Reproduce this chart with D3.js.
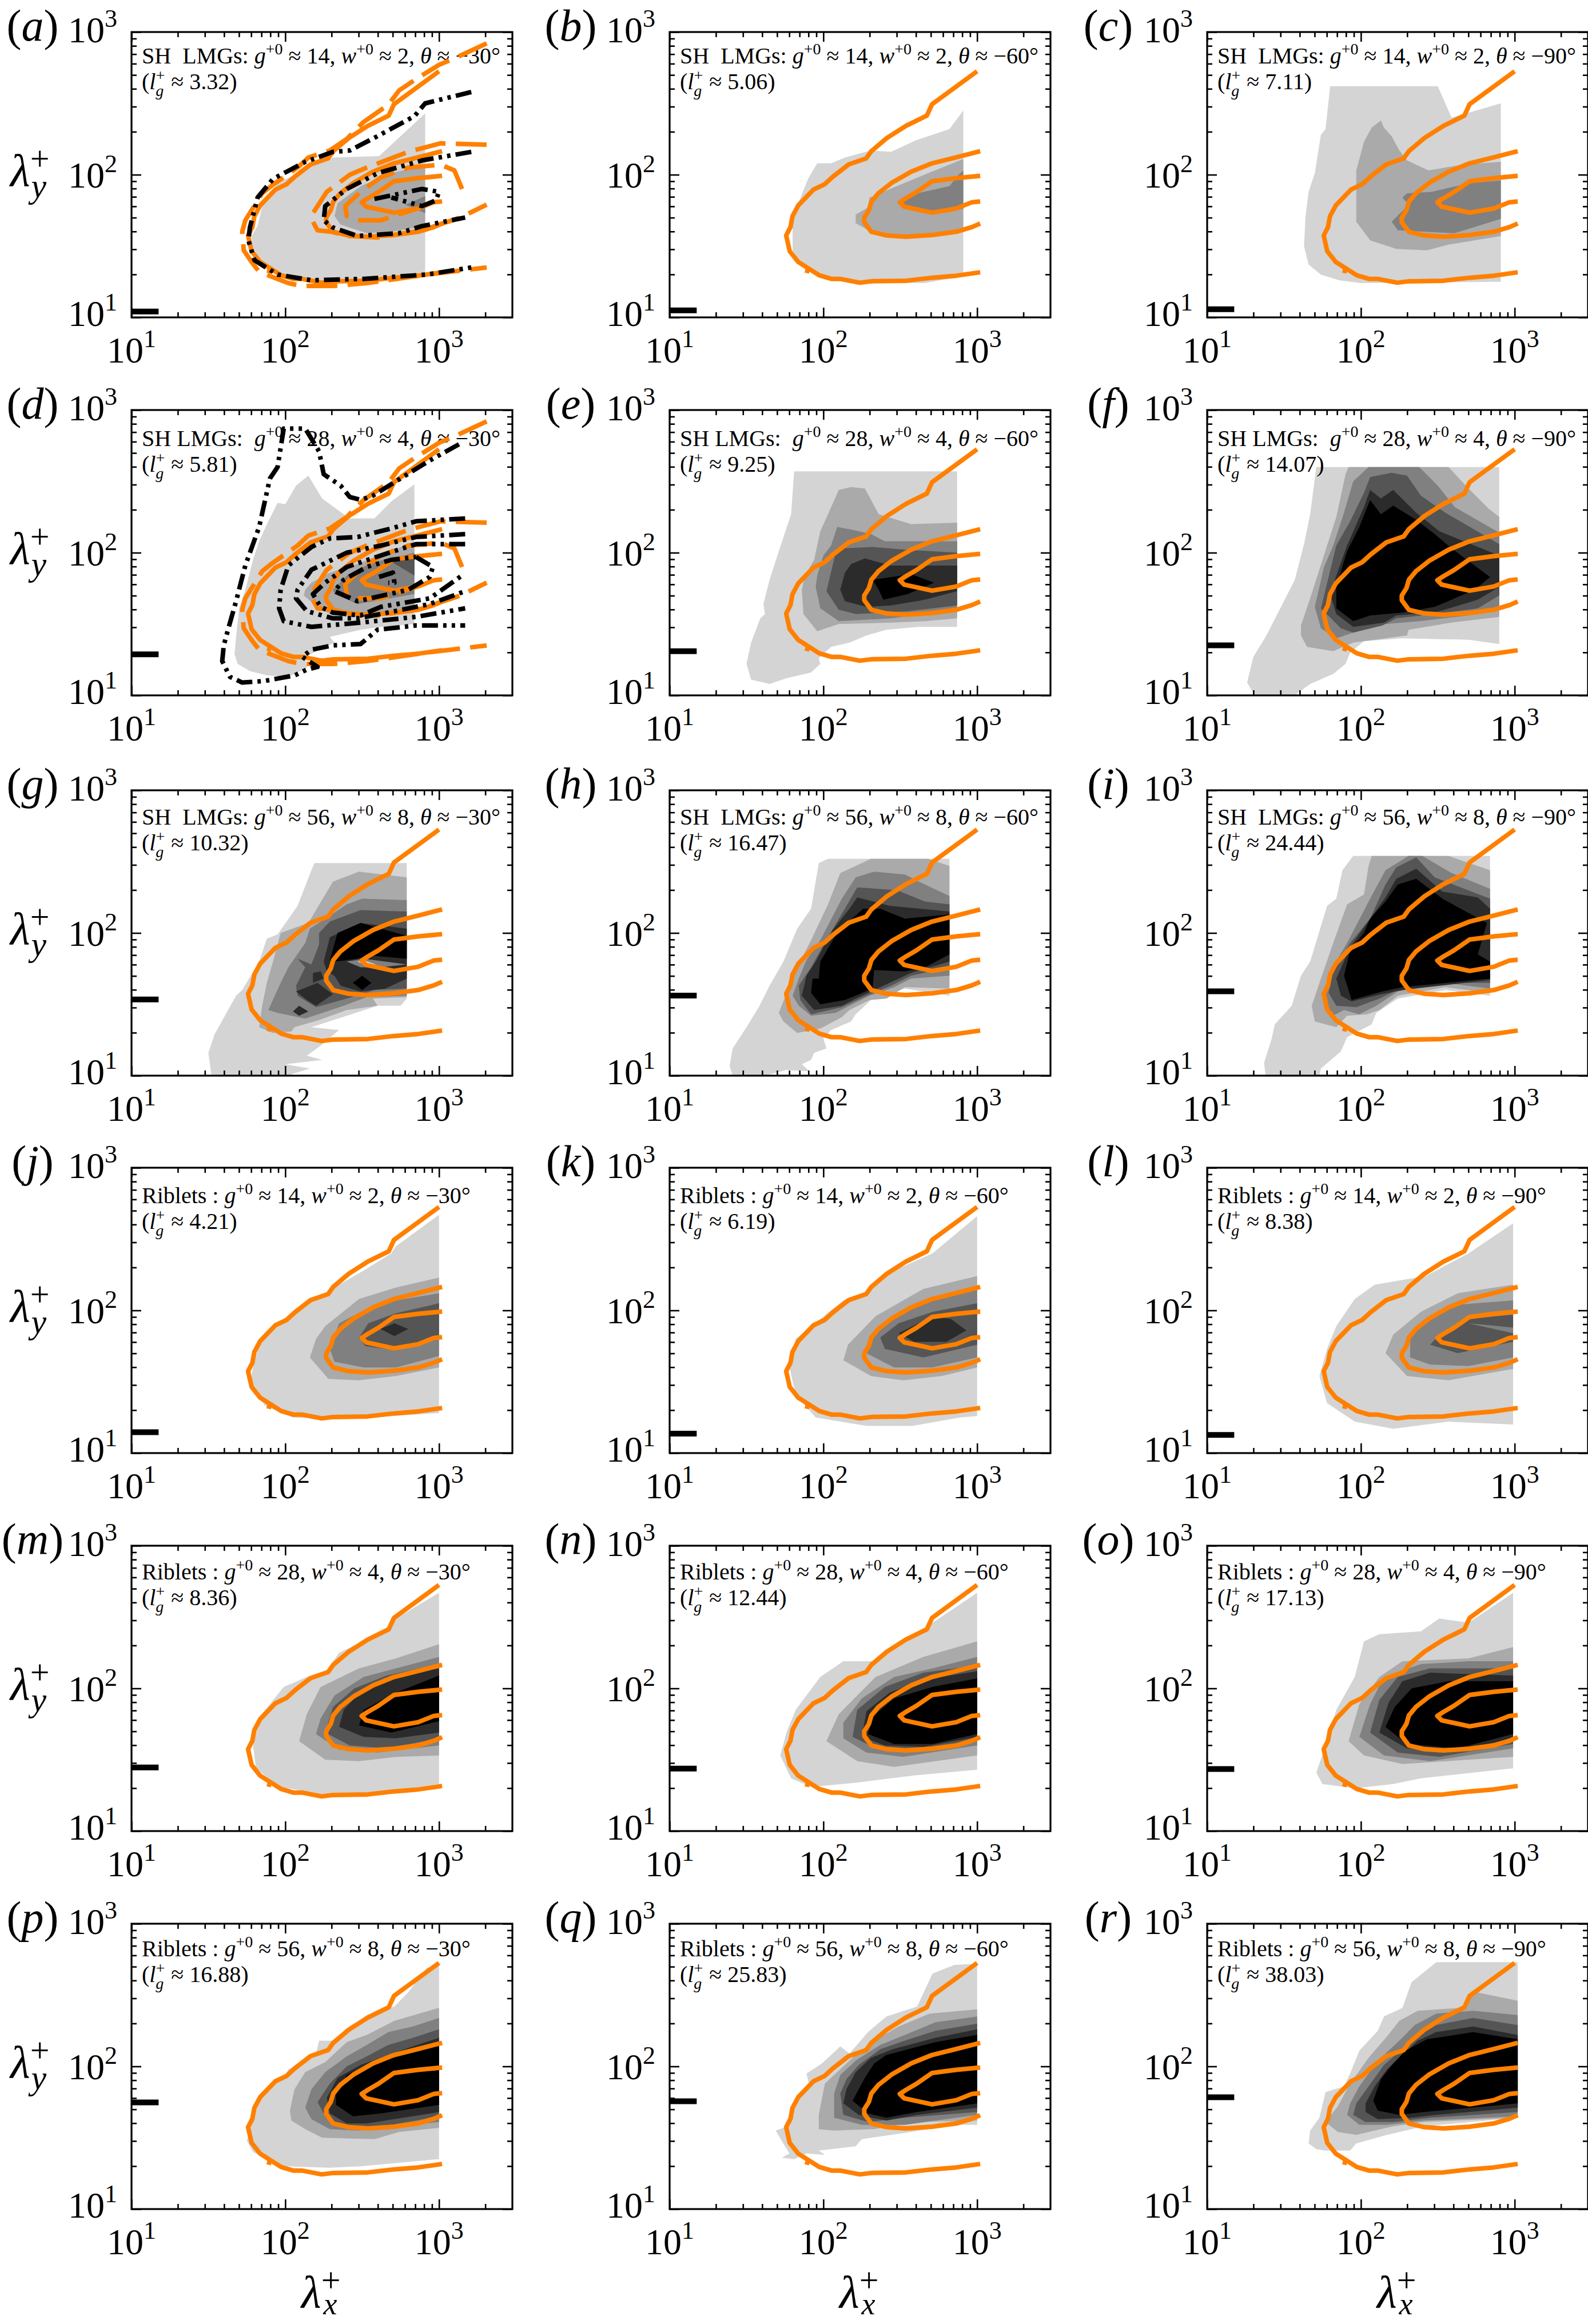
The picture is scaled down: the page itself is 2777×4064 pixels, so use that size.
<!DOCTYPE html>
<html>
<head>
<meta charset="utf-8">
<script src="https://cdn.jsdelivr.net/npm/d3@7"></script>
<style>
html, body { margin: 0; padding: 0; background: #fff; }
text { font-family: "Liberation Serif", serif; fill: #000; white-space: pre; }
</style>
</head>
<body>
<svg id="chart" width="2777" height="4064"></svg>
<script>
// all contour points are [log10(lambda_x+), log10(lambda_y+)]
var panelLetters = "abcdefghijklmnopqr".split("");
var gPlus = [14,14,14,28,28,28,56,56,56,14,14,14,28,28,28,56,56,56];
var wPlus = [2,2,2,4,4,4,8,8,8,2,2,2,4,4,4,8,8,8];
var thetaDeg = [30,60,90,30,60,90,30,60,90,30,60,90,30,60,90,30,60,90];
var lgPlus = ["3.32","5.06","7.11","5.81","9.25","14.07","10.32","16.47","24.44","4.21","6.19","8.38","8.36","12.44","17.13","16.88","25.83","38.03"];
var gapBar = [11,11.2,11.4,19.4,20.4,22.4,34.2,36.4,39,14,13.7,13.4,27.9,27.4,27.2,55.9,57,60.8];

var xMajor = [10,100,1000];
var xMinor = [20,30,40,50,60,70,80,90,200,300,400,500,600,700,800,900,2000];
var yMajor = [10,100,1000];
var yMinor = [20,30,40,50,60,70,80,90,200,300,400,500,600,700,800,900];
var bandGreys = ["#d4d4d4","#aaaaaa","#808080","#555555","#2b2b2b","#000000"];

// reference contours, the same in every panel
var refOuter = [[3,2.725],[2.707,2.494],[2.673,2.414],[2.537,2.342],[2.413,2.257],[2.312,2.165],[2.278,2.114],[2.165,2.072],[2.063,1.987],[2.007,1.932],[1.935,1.895],[1.837,1.785],[1.799,1.709],[1.786,1.633],[1.758,1.574],[1.781,1.464],[1.837,1.388],[1.973,1.295],[2.052,1.27],[2.108,1.27],[2.237,1.243],[2.311,1.253],[2.537,1.257],[2.707,1.278],[2.864,1.292],[3.02,1.316]];
var refMiddle = [[3.02,2.165],[2.864,2.122],[2.707,2.08],[2.571,2.021],[2.447,1.945],[2.357,1.869],[2.312,1.81],[2.296,1.751],[2.266,1.70],[2.266,1.667],[2.312,1.6],[2.413,1.574],[2.537,1.565],[2.707,1.577],[2.864,1.6],[2.966,1.633],[3.02,1.658]];
var refInner = [[3.02,1.992],[2.864,1.976],[2.707,1.954],[2.605,1.878],[2.537,1.835],[2.497,1.807],[2.526,1.776],[2.707,1.734],[2.864,1.763],[2.966,1.807],[3.02,1.813]];
var refSpur = [[1.9,1.345],[1.892,1.31]];

// long-dash contours of panels a and d
var dashOuter = [[3.31,2.92],[3.11,2.82],[3,2.77],[2.85,2.67],[2.74,2.59],[2.67,2.49],[2.51,2.37],[2.4,2.25],[2.29,2.17],[2.15,2.12],[2.08,2.05],[1.92,1.93],[1.85,1.87],[1.74,1.68],[1.72,1.6],[1.73,1.47],[1.78,1.39],[1.83,1.32],[2.02,1.24],[2.11,1.22],[2.31,1.22],[2.53,1.24],[2.92,1.3],[3.31,1.35]];
var dashMiddle = [[3.31,2.21],[3.01,2.22],[2.8,2.16],[2.53,2.05],[2.42,2],[2.27,1.88],[2.18,1.73],[2.17,1.69],[2.21,1.61],[2.3,1.6],[2.42,1.57],[2.6,1.56],[2.89,1.61],[3.14,1.7],[3.31,1.79]];
var dashInner = [[3.15,1.9],[3.1,2.03],[3.01,2.07],[2.8,2.05],[2.62,1.98],[2.49,1.88],[2.39,1.78],[2.4,1.71],[2.47,1.68],[2.62,1.68],[2.85,1.76]];

// dash-dot-dot contours
var dddA = [
  [[3.21,2.58],[2.91,2.5],[2.84,2.41],[2.6,2.27],[2.42,2.17],[2.31,2.16],[2.13,2.09],[1.92,1.97],[1.82,1.84],[1.77,1.63],[1.76,1.54],[1.8,1.4],[1.95,1.3],[2.17,1.26],[2.51,1.27],[2.92,1.3],[3.21,1.35]],
  [[3.21,2.16],[2.89,2.1],[2.6,2.01],[2.4,1.9],[2.26,1.78],[2.25,1.68],[2.31,1.63],[2.47,1.57],[2.74,1.59],[2.89,1.64],[3.17,1.7]],
  [[2.58,1.83],[2.89,1.9],[3,1.88],[2.98,1.82],[2.89,1.78],[2.69,1.84]]
];
var dddD = [
  [[3.13,2.76],[2.93,2.64],[2.69,2.48],[2.57,2.4],[2.49,2.37],[2.42,2.39],[2.36,2.47],[2.25,2.55],[2.22,2.71],[2.13,2.87],[1.99,2.87],[1.95,2.6],[1.9,2.52],[1.83,2.18],[1.74,1.91],[1.68,1.66],[1.63,1.47],[1.6,1.35],[1.59,1.24],[1.64,1.13],[1.72,1.09],[1.86,1.1],[2.06,1.14],[2.14,1.18],[2.21,1.2],[2.11,1.27],[2.17,1.32],[2.31,1.35],[2.49,1.36],[2.6,1.46],[2.85,1.49],[3.17,1.49]],
  [[3.17,2.24],[2.85,2.22],[2.69,2.17],[2.47,2.11],[2.29,2.1],[2.17,2.04],[2.02,1.91],[1.97,1.74],[1.96,1.61],[1.99,1.52],[2.17,1.48],[2.49,1.51],[2.85,1.55],[3.17,1.61]],
  [[3.17,2.13],[2.85,2.11],[2.62,2.05],[2.4,2],[2.17,1.88],[2.08,1.74],[2.07,1.68],[2.14,1.59],[2.31,1.54],[2.47,1.54],[2.62,1.57],[2.94,1.64],[3.17,1.73]],
  [[3.17,2.06],[2.85,2.06],[2.62,1.98],[2.4,1.9],[2.26,1.79],[2.18,1.71],[2.23,1.62],[2.31,1.58],[2.49,1.56],[2.62,1.62],[2.94,1.68],[3.15,1.84]],
  [[2.85,1.97],[2.96,1.9],[2.94,1.83],[2.8,1.74],[2.47,1.66],[2.32,1.73],[2.38,1.81],[2.53,1.9],[2.69,1.95],[2.85,1.97]],
  [[2.61,1.83],[2.7,1.86],[2.71,1.79],[2.67,1.79]]
];

// filled bands, [grey index, polygon]
var bandsA = [
  [0,[[2.91,2.43],[2.61,2.13],[2.31,2.12],[2.17,2.06],[1.95,1.94],[1.85,1.78],[1.82,1.64],[1.78,1.57],[1.79,1.45],[1.83,1.38],[1.99,1.29],[2.22,1.25],[2.49,1.26],[2.91,1.31]]],
  [1,[[2.91,2.07],[2.69,2.01],[2.49,1.92],[2.34,1.8],[2.32,1.71],[2.36,1.65],[2.53,1.59],[2.69,1.6],[2.91,1.64]]],
  [2,[[2.91,1.85],[2.78,1.79],[2.91,1.73]]]
];
var bandsB = [
  [0,[[2.91,2.45],[2.82,2.32],[2.6,2.24],[2.44,2.16],[2.31,2.17],[2.14,2.12],[2.05,2.08],[1.96,2.08],[1.9,1.97],[1.84,1.81],[1.8,1.71],[1.8,1.47],[1.86,1.37],[1.97,1.3],[2.12,1.26],[2.24,1.24],[2.66,1.24],[2.91,1.29]]],
  [1,[[2.91,2.11],[2.68,2.01],[2.5,1.93],[2.3,1.84],[2.29,1.77],[2.21,1.72],[2.21,1.66],[2.31,1.6],[2.44,1.57],[2.71,1.58],[2.91,1.6]]],
  [2,[[2.91,2.03],[2.88,2],[2.82,1.92],[2.57,1.86],[2.5,1.81],[2.53,1.76],[2.62,1.74],[2.91,1.76]]]
];
var bandsC = [
  [0,[[1.8,2.62],[2.5,2.62],[2.59,2.4],[2.91,2.5],[2.91,1.25],[2,1.24],[1.86,1.26],[1.74,1.3],[1.66,1.37],[1.63,1.5],[1.64,1.71],[1.66,1.88],[1.7,2.01],[1.74,2.28],[1.77,2.32]]],
  [1,[[2.13,2.38],[2.07,2.33],[2.02,2.23],[1.97,2.03],[1.97,1.67],[2.06,1.54],[2.23,1.48],[2.43,1.47],[2.57,1.51],[2.91,1.57],[2.91,2.09],[2.66,2.07],[2.44,2.03],[2.3,2.1],[2.25,2.17],[2.2,2.27],[2.15,2.33]]],
  [2,[[2.3,1.87],[2.27,1.84],[2.31,1.79],[2.2,1.67],[2.24,1.61],[2.61,1.59],[2.91,1.69],[2.91,1.96],[2.7,1.94],[2.46,1.88]]]
];
var bandsD = [
  [0,[[2.84,2.48],[2.84,1.5],[2.62,1.48],[2.49,1.46],[2.29,1.41],[2.32,1.37],[2.13,1.27],[2.14,1.19],[2.02,1.13],[1.88,1.14],[1.77,1.17],[1.69,1.22],[1.67,1.29],[1.68,1.41],[1.7,1.61],[1.74,1.74],[1.79,1.95],[1.83,2.08],[1.89,2.22],[1.95,2.35],[2,2.34],[2.07,2.47],[2.15,2.54],[2.24,2.38],[2.38,2.27],[2.42,2.24],[2.58,2.24],[2.69,2.36]]],
  [1,[[2.84,2.07],[2.67,2.01],[2.49,1.93],[2.29,1.86],[2.17,1.79],[2.13,1.74],[2.12,1.7],[2.22,1.61],[2.31,1.56],[2.53,1.57],[2.84,1.61]]],
  [2,[[2.84,2],[2.69,1.96],[2.56,1.93],[2.4,1.84],[2.31,1.74],[2.32,1.71],[2.47,1.64],[2.84,1.71]]],
  [3,[[2.84,1.96],[2.67,1.95],[2.84,1.84]]]
];
var bandsE = [
  [0,[[1.81,2.57],[2.87,2.57],[2.87,1.48],[2.62,1.48],[2.41,1.46],[2.28,1.42],[2.17,1.37],[2.05,1.34],[1.97,1.26],[1.98,1.22],[1.92,1.16],[1.76,1.12],[1.65,1.08],[1.53,1.11],[1.5,1.22],[1.53,1.37],[1.59,1.54],[1.62,1.57],[1.61,1.64],[1.65,1.81],[1.71,2.01],[1.79,2.27]]],
  [1,[[2.1,2.44],[2.18,2.46],[2.27,2.45],[2.36,2.27],[2.57,2.2],[2.87,2.21],[2.87,1.54],[2.66,1.52],[2.44,1.51],[2.1,1.5],[1.96,1.45],[1.87,1.57],[1.86,1.74],[1.88,1.84],[1.94,1.95],[1.98,2.15],[2.03,2.27]]],
  [2,[[2.09,2.18],[2.19,2.16],[2.31,2.13],[2.4,2.08],[2.87,2.08],[2.87,1.59],[2.66,1.57],[2.44,1.54],[2.1,1.52],[1.98,1.61],[1.95,1.76],[1.96,1.84],[2,1.98],[2.05,2.05]]],
  [3,[[2.12,2.03],[2.32,2.04],[2.55,2.02],[2.87,2],[2.87,1.63],[2.55,1.59],[2.21,1.57],[2.1,1.6],[2.02,1.73],[2.06,1.91],[2.08,2]]],
  [4,[[2.18,1.92],[2.27,1.96],[2.44,1.91],[2.87,1.91],[2.87,1.73],[2.66,1.67],[2.44,1.63],[2.28,1.62],[2.14,1.66],[2.11,1.74],[2.14,1.86]]],
  [5,[[2.32,1.81],[2.57,1.85],[2.72,1.79],[2.55,1.71],[2.39,1.67],[2.36,1.74]]]
];
var bandsF = [
  [0,[[1.71,2.6],[2.9,2.6],[2.9,1.36],[2.7,1.39],[2.27,1.4],[2.02,1.38],[1.93,1.3],[1.9,1.22],[1.82,1.15],[1.67,1.08],[1.57,1],[1.31,1],[1.26,1.09],[1.3,1.27],[1.38,1.41],[1.49,1.64],[1.57,1.81],[1.63,2.06],[1.67,2.27]]],
  [1,[[1.92,2.6],[2.57,2.6],[2.7,2.45],[2.83,2.31],[2.9,2.25],[2.9,1.55],[2.59,1.51],[2.31,1.46],[2.3,1.42],[1.95,1.37],[1.82,1.31],[1.65,1.34],[1.61,1.42],[1.61,1.49],[1.67,1.68],[1.78,2.05],[1.84,2.25],[1.9,2.55]]],
  [2,[[2.05,2.6],[2.38,2.6],[2.5,2.47],[2.61,2.32],[2.9,2.14],[2.9,1.61],[2.7,1.56],[2.38,1.52],[2.16,1.5],[1.95,1.44],[1.84,1.4],[1.74,1.47],[1.7,1.62],[1.76,1.9],[1.82,2.05],[1.89,2.28],[1.95,2.5]]],
  [3,[[2.06,2.53],[2.2,2.56],[2.3,2.54],[2.39,2.4],[2.55,2.28],[2.9,2.06],[2.9,1.7],[2.76,1.61],[2.48,1.57],[2.23,1.54],[2.14,1.49],[1.95,1.44],[1.87,1.47],[1.74,1.61],[1.79,1.83],[1.84,2.05],[1.93,2.22],[2.02,2.42]]],
  [4,[[2.06,2.44],[2.13,2.38],[2.21,2.44],[2.36,2.28],[2.51,2.15],[2.9,1.98],[2.9,1.76],[2.76,1.67],[2.48,1.58],[2.23,1.56],[2.15,1.51],[1.95,1.48],[1.84,1.57],[1.8,1.71],[1.84,1.84],[1.91,2.05],[2.02,2.32]]],
  [5,[[2.06,2.37],[2.13,2.27],[2.21,2.33],[2.36,2.23],[2.48,2.13],[2.59,2.03],[2.84,1.83],[2.74,1.74],[2.48,1.62],[2.27,1.58],[2.06,1.56],[1.95,1.52],[1.84,1.61],[1.84,1.76],[1.91,2.01],[1.99,2.18]]]
];
var bandsG = [
  [0,[[2.19,2.49],[2.79,2.49],[2.79,1.54],[2.75,1.49],[2.6,1.49],[2.4,1.42],[2.17,1.34],[2.35,1.32],[2.23,1.21],[2.14,1.14],[2.24,1.11],[2,1.08],[2.16,1.05],[2.04,1.01],[2.04,1],[1.52,1],[1.5,1.16],[1.54,1.29],[1.68,1.56],[1.72,1.6],[1.83,1.8],[1.88,1.96],[1.95,1.99],[2.08,2.19],[2.17,2.44]]],
  [1,[[2.48,2.43],[2.79,2.39],[2.79,1.55],[2.57,1.54],[2.6,1.49],[2.4,1.46],[2.22,1.39],[2.06,1.34],[2.04,1.31],[1.92,1.3],[1.83,1.34],[1.85,1.49],[1.88,1.65],[1.92,1.8],[1.97,2],[2.15,2.07],[2.31,2.36]]],
  [2,[[2.5,2.24],[2.79,2.23],[2.79,1.56],[2.53,1.55],[2.38,1.49],[2.13,1.4],[1.95,1.44],[1.89,1.46],[1.97,1.65],[2.02,1.76],[2.13,1.93],[2.16,2.03],[2.29,2.12],[2.4,2.2]]],
  [3,[[2.49,2.16],[2.79,2.15],[2.79,1.61],[2.58,1.6],[2.4,1.54],[2.2,1.48],[2.08,1.56],[2.07,1.63],[2.13,1.76],[2.08,1.82],[2.17,1.78],[2.22,1.92],[2.22,2],[2.29,2.08]]],
  [4,[[2.29,1.97],[2.49,2.07],[2.79,2.03],[2.79,1.68],[2.65,1.61],[2.49,1.59],[2.36,1.63],[2.32,1.7],[2.27,1.73],[2.25,1.8]]],
  [4,[[2.18,1.72],[2.23,1.73],[2.25,1.68],[2.18,1.65]]],
  [4,[[2.07,1.59],[2.21,1.65],[2.31,1.57],[2.2,1.49],[2.14,1.53]]],
  [4,[[2.05,1.45],[2.09,1.49],[2.15,1.45],[2.09,1.42]]],
  [5,[[2.29,1.81],[2.34,2],[2.49,2.07],[2.79,1.98],[2.79,1.82],[2.58,1.84],[2.4,1.81],[2.32,1.8]]],
  [5,[[2.44,1.65],[2.5,1.7],[2.56,1.65],[2.5,1.6]]],
  [2,[[2.4,1.8],[2.51,1.82],[2.79,1.78],[2.62,1.76],[2.49,1.76]]],
  [0,[[2.47,1.8],[2.51,1.81],[2.59,1.78],[2.53,1.77]]]
];
var bandsH = [
  [0,[[2.03,2.52],[2.82,2.52],[2.82,1.56],[2.53,1.61],[2.32,1.54],[2.21,1.43],[2.18,1.38],[2.05,1.32],[2,1.26],[2.02,1.19],[1.94,1.16],[1.92,1.11],[1.86,1.08],[1.91,1.03],[1.76,1.04],[1.62,1],[1.41,1],[1.39,1.07],[1.41,1.19],[1.5,1.34],[1.58,1.48],[1.65,1.63],[1.74,1.8],[1.83,2.03],[1.92,2.17],[1.97,2.49]]],
  [1,[[2.31,2.52],[2.68,2.52],[2.82,2.47],[2.82,1.61],[2.53,1.62],[2.41,1.54],[2.3,1.53],[2.17,1.46],[2.12,1.41],[1.98,1.33],[1.83,1.3],[1.74,1.38],[1.71,1.44],[1.78,1.63],[1.83,1.76],[1.92,1.95],[2.03,2.2],[2.11,2.42]]],
  [2,[[2.21,2.39],[2.33,2.43],[2.53,2.41],[2.66,2.34],[2.82,2.26],[2.82,1.7],[2.57,1.68],[2.46,1.62],[2.3,1.56],[2.17,1.49],[2.08,1.44],[1.92,1.42],[1.84,1.49],[1.8,1.56],[1.84,1.68],[1.89,1.81],[1.98,1.95],[2.12,2.24]]],
  [3,[[2.22,2.32],[2.48,2.3],[2.66,2.22],[2.82,2.2],[2.82,1.76],[2.57,1.7],[2.44,1.63],[2.28,1.56],[2.12,1.48],[1.92,1.43],[1.85,1.53],[1.84,1.63],[1.92,1.76],[2.03,1.97],[2.14,2.17]]],
  [4,[[2.22,2.25],[2.43,2.19],[2.82,2.15],[2.82,1.8],[2.57,1.72],[2.39,1.63],[2.21,1.54],[2.12,1.49],[1.94,1.46],[1.86,1.56],[1.89,1.7],[1.95,1.8],[2.06,2.02],[2.17,2.17]]],
  [5,[[2.26,2.17],[2.37,2.17],[2.53,2.1],[2.82,2.13],[2.82,1.85],[2.66,1.76],[2.53,1.73],[2.33,1.74],[2.32,1.61],[2.14,1.53],[1.98,1.5],[1.92,1.58],[1.93,1.68],[1.97,1.68],[1.98,1.8],[2.1,2.02]]]
];
var bandsI = [
  [0,[[1.95,2.54],[2.84,2.54],[2.84,1.56],[2.55,1.6],[2.24,1.54],[2.1,1.44],[2.07,1.36],[1.91,1.27],[1.87,1.17],[1.74,1.05],[1.73,1],[1.38,1],[1.37,1.09],[1.42,1.26],[1.44,1.36],[1.55,1.49],[1.61,1.7],[1.67,1.8],[1.78,2.19],[1.84,2.24],[1.88,2.44]]],
  [1,[[2.07,2.54],[2.57,2.54],[2.84,2.44],[2.84,1.58],[2.55,1.62],[2.24,1.56],[2.12,1.46],[2.04,1.43],[1.91,1.42],[1.84,1.34],[1.7,1.38],[1.68,1.49],[1.74,1.68],[1.82,1.93],[1.91,2.2],[2.02,2.27],[2.05,2.47]]],
  [2,[[2.31,2.54],[2.4,2.54],[2.59,2.42],[2.84,2.31],[2.84,1.61],[2.55,1.65],[2.24,1.59],[2.1,1.49],[1.99,1.43],[1.89,1.46],[1.8,1.41],[1.76,1.56],[1.8,1.73],[1.91,1.93],[2.06,2.24],[2.16,2.44]]],
  [3,[[2.23,2.46],[2.36,2.53],[2.48,2.39],[2.84,2.24],[2.84,1.65],[2.55,1.65],[2.24,1.6],[2.12,1.54],[1.97,1.48],[1.84,1.49],[1.79,1.58],[1.82,1.73],[1.93,1.93],[2.06,2.1],[2.16,2.34]]],
  [4,[[2.23,2.38],[2.36,2.45],[2.53,2.29],[2.76,2.25],[2.84,2.17],[2.84,1.67],[2.27,1.6],[2.13,1.57],[1.94,1.52],[1.87,1.56],[1.84,1.68],[1.93,1.9],[2.06,2.1],[2.16,2.25]]],
  [5,[[2.24,2.34],[2.36,2.38],[2.53,2.24],[2.82,2.07],[2.76,1.85],[2.84,1.8],[2.84,1.68],[2.27,1.62],[2.14,1.59],[1.94,1.53],[1.89,1.7],[1.93,1.88],[2.02,2],[2.06,2.1],[2.16,2.22]]]
];
var bandsJ = [
  [0,[[3,2.67],[2.72,2.45],[2.69,2.4],[2.51,2.28],[2.35,2.18],[2.29,2.12],[2.14,2.07],[1.96,1.91],[1.84,1.8],[1.79,1.6],[1.77,1.48],[1.87,1.33],[2.05,1.25],[2.23,1.24],[2.54,1.25],[3,1.28]]],
  [1,[[3,2.23],[2.72,2.16],[2.48,2.08],[2.26,1.89],[2.2,1.8],[2.16,1.67],[2.28,1.52],[2.48,1.51],[2.72,1.54],[3,1.6]]],
  [2,[[3,2.12],[2.72,2.07],[2.51,2],[2.35,1.91],[2.29,1.73],[2.32,1.64],[2.51,1.6],[2.72,1.6],[3,1.68]]],
  [3,[[3,2.05],[2.72,1.98],[2.54,1.91],[2.48,1.81],[2.52,1.75],[2.72,1.72],[3,1.8]]],
  [4,[[2.62,1.87],[2.71,1.91],[2.8,1.87],[2.71,1.82]]]
];
var bandsK = [
  [0,[[3,2.66],[2.71,2.4],[2.46,2.28],[2.28,2.13],[2.13,2.07],[1.98,1.94],[1.82,1.8],[1.78,1.6],[1.82,1.41],[1.95,1.25],[2.28,1.19],[2.58,1.19],[2.89,1.25],[3,1.26]]],
  [1,[[3,2.24],[2.65,2.15],[2.34,1.96],[2.16,1.76],[2.13,1.65],[2.31,1.54],[2.52,1.51],[2.77,1.54],[3,1.6]]],
  [2,[[3,2.15],[2.71,2.08],[2.46,1.97],[2.31,1.83],[2.28,1.7],[2.46,1.6],[2.71,1.6],[3,1.67]]],
  [3,[[3,2.05],[2.71,1.99],[2.49,1.91],[2.37,1.81],[2.4,1.73],[2.65,1.67],[3,1.76]]],
  [4,[[2.71,1.96],[2.83,1.94],[2.93,1.86],[2.8,1.78],[2.59,1.78],[2.49,1.84]]]
];
var bandsL = [
  [0,[[2.99,2.61],[2.7,2.4],[2.42,2.24],[2.09,2.18],[1.96,2.08],[1.84,1.89],[1.78,1.73],[1.73,1.54],[1.78,1.35],[1.96,1.22],[2.21,1.17],[2.57,1.22],[2.99,1.2]]],
  [1,[[2.99,2.18],[2.63,2.12],[2.39,1.99],[2.21,1.83],[2.16,1.7],[2.3,1.54],[2.57,1.51],[2.99,1.59]]],
  [2,[[2.99,2.07],[2.63,2.04],[2.42,1.94],[2.32,1.8],[2.32,1.67],[2.45,1.62],[2.7,1.61],[2.99,1.67]]],
  [3,[[2.99,1.97],[2.7,1.94],[2.51,1.83],[2.45,1.76],[2.63,1.7],[2.99,1.78]]],
  [2,[[2.7,1.91],[2.99,1.88],[2.99,1.84]]]
];
var bandsM = [
  [0,[[3,2.67],[2.72,2.49],[2.66,2.41],[2.35,2.25],[2.26,2.11],[2.14,2.08],[1.99,2.01],[1.84,1.81],[1.79,1.6],[1.81,1.44],[1.96,1.31],[2.23,1.26],[2.54,1.26],[3,1.33]]],
  [1,[[3,2.31],[2.72,2.21],[2.48,2.14],[2.23,2.01],[2.14,1.82],[2.09,1.63],[2.26,1.5],[2.48,1.49],[2.72,1.52],[3,1.53]]],
  [2,[[3,2.22],[2.72,2.14],[2.51,2.08],[2.32,1.95],[2.23,1.79],[2.2,1.68],[2.35,1.57],[2.6,1.55],[3,1.6]]],
  [3,[[3,2.17],[2.66,2.09],[2.45,2],[2.31,1.87],[2.26,1.69],[2.42,1.6],[2.66,1.58],[3,1.65]]],
  [4,[[3,2.14],[2.72,2.08],[2.51,2],[2.38,1.85],[2.35,1.73],[2.51,1.66],[2.72,1.65],[3,1.69]]],
  [5,[[3,2.09],[2.72,1.97],[2.51,1.85],[2.48,1.74],[2.69,1.69],[3,1.77]]]
];
var bandsN = [
  [0,[[3,2.67],[2.71,2.46],[2.65,2.4],[2.34,2.19],[2.13,2.19],[1.98,2.08],[1.82,1.85],[1.76,1.69],[1.72,1.53],[1.79,1.37],[1.92,1.31],[2.22,1.34],[2.59,1.39],[3,1.43]]],
  [1,[[3,2.33],[2.65,2.22],[2.34,2.08],[2.1,1.82],[2.02,1.63],[2.22,1.49],[2.46,1.45],[3,1.53]]],
  [2,[[3,2.22],[2.71,2.14],[2.46,2.08],[2.25,1.93],[2.13,1.76],[2.13,1.65],[2.28,1.55],[2.52,1.52],[3,1.6]]],
  [3,[[3,2.16],[2.65,2.11],[2.4,2.01],[2.22,1.85],[2.19,1.66],[2.34,1.58],[2.65,1.57],[3,1.63]]],
  [4,[[3,2.12],[2.65,2.06],[2.43,1.97],[2.28,1.84],[2.25,1.66],[2.4,1.6],[2.65,1.59],[3,1.66]]],
  [5,[[3,2.07],[2.71,2.01],[2.46,1.93],[2.33,1.81],[2.29,1.68],[2.46,1.61],[2.71,1.61],[3,1.68]]]
];
var bandsO = [
  [0,[[2.99,2.67],[2.7,2.46],[2.51,2.49],[2.39,2.4],[2.12,2.38],[2.02,2.33],[1.96,2.08],[1.84,1.85],[1.78,1.63],[1.71,1.41],[1.75,1.33],[1.96,1.3],[2.21,1.33],[2.39,1.37],[2.99,1.44]]],
  [1,[[2.99,2.29],[2.7,2.21],[2.27,2.19],[2.12,2.08],[1.99,1.89],[1.92,1.63],[2.02,1.53],[2.27,1.47],[2.99,1.52]]],
  [2,[[2.99,2.19],[2.7,2.19],[2.39,2.17],[2.15,2.08],[2.06,1.89],[1.99,1.66],[2.15,1.53],[2.45,1.49],[2.99,1.58]]],
  [3,[[2.99,2.14],[2.45,2.14],[2.24,2.08],[2.12,1.92],[2.06,1.69],[2.24,1.55],[2.51,1.52],[2.99,1.61]]],
  [4,[[2.99,2.09],[2.45,2.11],[2.27,2.05],[2.18,1.9],[2.12,1.69],[2.3,1.58],[2.57,1.55],[2.99,1.65]]],
  [5,[[2.99,2.05],[2.57,2.05],[2.33,2],[2.22,1.87],[2.16,1.73],[2.3,1.61],[2.63,1.58],[2.99,1.68]]]
];
var bandsP = [
  [0,[[3,2.71],[2.92,2.69],[2.8,2.52],[2.71,2.42],[2.53,2.36],[2.4,2.24],[2.32,2.18],[2.22,2.18],[2.2,2.09],[2.08,2.01],[2.02,1.98],[2,1.93],[1.92,1.9],[1.83,1.79],[1.79,1.63],[1.75,1.48],[1.79,1.4],[1.9,1.34],[1.99,1.3],[2.29,1.29],[2.49,1.3],[3,1.35]]],
  [1,[[3,2.41],[2.71,2.32],[2.53,2.22],[2.4,2.17],[2.26,2.03],[2.13,1.96],[2.06,1.84],[2.03,1.69],[2.04,1.62],[2.13,1.56],[2.24,1.5],[2.58,1.49],[2.74,1.54],[3,1.57]]],
  [2,[[3,2.34],[2.83,2.28],[2.67,2.24],[2.53,2.15],[2.4,2.07],[2.26,1.96],[2.17,1.84],[2.13,1.71],[2.17,1.63],[2.29,1.56],[2.47,1.55],[3,1.61]]],
  [3,[[3,2.26],[2.83,2.2],[2.67,2.15],[2.53,2.07],[2.4,2],[2.29,1.88],[2.21,1.75],[2.26,1.65],[2.38,1.57],[2.53,1.56],[3,1.65]]],
  [4,[[3,2.2],[2.83,2.14],[2.67,2.08],[2.49,2.01],[2.34,1.92],[2.27,1.78],[2.29,1.67],[2.4,1.6],[2.53,1.6],[3,1.68]]],
  [5,[[3,2.15],[2.74,2.07],[2.53,2.01],[2.4,1.94],[2.33,1.8],[2.33,1.73],[2.44,1.65],[2.62,1.67],[3,1.73]]]
];
var bandsQ = [
  [0,[[3,2.72],[2.85,2.71],[2.71,2.65],[2.61,2.42],[2.41,2.35],[2.29,2.24],[2.17,2.09],[2.11,2.14],[1.99,2.02],[1.89,1.95],[1.91,1.86],[1.85,1.79],[1.81,1.74],[1.77,1.58],[1.69,1.55],[1.75,1.44],[1.78,1.39],[1.73,1.36],[1.81,1.35],[1.89,1.39],[2.01,1.38],[1.97,1.41],[2.21,1.44],[2.25,1.49],[2.57,1.54],[2.85,1.59],[3,1.59]]],
  [1,[[3,2.4],[2.69,2.37],[2.49,2.28],[2.33,2.18],[2.21,2.08],[2.09,1.96],[2.01,1.88],[1.97,1.66],[1.97,1.56],[2.07,1.55],[2.33,1.56],[2.61,1.61],[3,1.62]]],
  [2,[[3,2.35],[2.73,2.31],[2.53,2.22],[2.37,2.15],[2.21,2.04],[2.11,1.94],[2.07,1.81],[2.07,1.64],[2.25,1.59],[2.53,1.59],[3,1.66]]],
  [3,[[3,2.3],[2.73,2.25],[2.53,2.18],[2.37,2.12],[2.23,2.01],[2.15,1.91],[2.11,1.81],[2.13,1.66],[2.29,1.61],[2.53,1.64],[3,1.68]]],
  [4,[[3,2.26],[2.73,2.2],[2.45,2.12],[2.31,2.06],[2.21,1.96],[2.15,1.84],[2.13,1.74],[2.23,1.66],[2.41,1.62],[2.61,1.66],[3,1.71]]],
  [5,[[3,2.22],[2.73,2.17],[2.41,2.08],[2.33,2.02],[2.27,1.92],[2.19,1.76],[2.29,1.67],[2.41,1.64],[2.61,1.68],[3,1.74]]]
];
var bandsR = [
  [0,[[3.02,2.73],[2.49,2.73],[2.33,2.59],[2.27,2.41],[2.15,2.35],[2.11,2.25],[1.99,2.11],[1.93,1.95],[1.89,1.86],[1.77,1.82],[1.73,1.64],[1.67,1.55],[1.66,1.46],[1.71,1.42],[1.77,1.41],[1.93,1.41],[1.97,1.46],[2.17,1.52],[2.41,1.58],[3.02,1.64]]],
  [1,[[3.02,2.46],[2.75,2.52],[2.65,2.41],[2.37,2.39],[2.25,2.32],[2.17,2.21],[2.05,2.06],[1.93,1.88],[1.85,1.72],[1.77,1.61],[1.85,1.54],[1.97,1.52],[2.21,1.58],[2.41,1.61],[3.02,1.64]]],
  [2,[[3.02,2.36],[2.73,2.39],[2.49,2.37],[2.35,2.29],[2.25,2.18],[2.11,2.04],[1.99,1.86],[1.93,1.74],[1.91,1.66],[1.99,1.59],[2.17,1.59],[2.41,1.62],[3.02,1.65]]],
  [3,[[3.02,2.29],[2.73,2.34],[2.49,2.29],[2.37,2.21],[2.27,2.12],[2.15,2.01],[2.05,1.86],[1.97,1.74],[1.95,1.66],[2.03,1.61],[2.21,1.61],[2.45,1.64],[3.02,1.68]]],
  [4,[[3.02,2.22],[2.73,2.28],[2.49,2.24],[2.37,2.18],[2.27,2.08],[2.17,1.98],[2.09,1.86],[2.03,1.74],[2.03,1.68],[2.11,1.63],[2.33,1.64],[2.49,1.66],[3.02,1.71]]],
  [5,[[3.02,2.19],[2.73,2.24],[2.43,2.19],[2.29,2.11],[2.21,2.02],[2.13,1.91],[2.08,1.76],[2.11,1.69],[2.25,1.66],[2.41,1.68],[3.02,1.74]]]
];
var panelBands = [bandsA,bandsB,bandsC,bandsD,bandsE,bandsF,bandsG,bandsH,bandsI,bandsJ,bandsK,bandsL,bandsM,bandsN,bandsO,bandsP,bandsQ,bandsR];

// layout
var colLeft = [230, 1171, 2111];
var rowTop = [56, 717, 1382, 2042, 2703, 3364];
var textDrop = [55, 63, 60, 62, 59, 57];
var boxW = 666, boxH = 499;
var orange = "#ff8000";

var svg = d3.select("#chart");

var x = d3.scaleLog().domain([10, 3000]).range([0, boxW]);
var y = d3.scaleLog().domain([10, 1000]).range([boxH, 0]);

var contour = d3.line()
	.x(function(d) { return x(Math.pow(10, d[0])); })
	.y(function(d) { return y(Math.pow(10, d[1])); });

// appends one run of text to a <text>, dy is relative to the previous run
function run(t, txt, o) {
	o = o || {};
	var s = t.append("tspan").text(txt);
	if (o.it) s.attr("font-style", "italic");
	if (o.fs) s.attr("font-size", o.fs);
	if (o.dy) s.attr("dy", o.dy);
	if (o.dx) s.attr("dx", o.dx);
	return s;
}

function power(t, exp) {
	run(t, "10");
	run(t, exp, {fs: 44, dy: -27});
}

function drawAxes(g) {
	var sides = [
		{ax: d3.axisBottom(x), tr: "translate(0," + boxH + ")", vals: [xMajor, xMinor]},
		{ax: d3.axisTop(x), tr: null, vals: [xMajor, xMinor]},
		{ax: d3.axisLeft(y), tr: null, vals: [yMajor, yMinor]},
		{ax: d3.axisRight(y), tr: "translate(" + boxW + ",0)", vals: [yMajor, yMinor]}
	];
	sides.forEach(function(s) {
		s.vals.forEach(function(vals, k) {
			var a = g.append("g")
				.attr("transform", s.tr)
				.call(s.ax.tickValues(vals).tickFormat("").tickSizeOuter(0).tickSizeInner(k == 0 ? -17 : -9));
			a.select(".domain").remove();
			a.selectAll("line").attr("stroke", "#000").attr("stroke-width", 2.6);
		});
	});
	g.append("rect")
		.attr("width", boxW)
		.attr("height", boxH)
		.attr("fill", "none")
		.attr("stroke", "#000")
		.attr("stroke-width", 3.2);
}

function drawLine(g, pts, colour, dash) {
	g.append("path")
		.attr("d", contour(pts))
		.attr("fill", "none")
		.attr("stroke", colour)
		.attr("stroke-width", 8)
		.attr("stroke-linejoin", "round")
		.attr("stroke-dasharray", dash);
}

panelLetters.forEach(function(letter, i) {
	var row = Math.floor(i / 3), col = i % 3;
	var g = svg.append("g")
		.attr("transform", "translate(" + colLeft[col] + "," + rowTop[row] + ")");

	// filled contours
	panelBands[i].forEach(function(b) {
		g.append("path")
			.attr("d", contour(b[1]) + "Z")
			.attr("fill", bandGreys[b[0]]);
	});

	// annotation, two lines
	var riblet = i >= 9;
	var narrow = !riblet && gPlus[i] == 28;
	var t1 = g.append("text")
		.attr("x", 18)
		.attr("y", textDrop[row])
		.attr("font-size", 40);
	run(t1, riblet ? "Riblets : " : (narrow ? "SH LMGs: " : "SH  LMGs: "));
	run(t1, "g", {it: true, dx: narrow ? 10 : 0});
	run(t1, "+0", {fs: 28, dy: -16});
	run(t1, " ≈ " + gPlus[i] + ", ", {dy: 16});
	run(t1, "w", {it: true});
	run(t1, "+0", {fs: 28, dy: -16});
	run(t1, " ≈ " + wPlus[i] + ", ", {dy: 16});
	run(t1, "θ", {it: true});
	run(t1, " ≈ −" + thetaDeg[i] + "°");

	var t2 = g.append("text")
		.attr("x", 18)
		.attr("y", textDrop[row] + 45)
		.attr("font-size", 40);
	run(t2, "(");
	run(t2, "l", {it: true});
	run(t2, "+", {fs: 28, dy: -15});
	run(t2, "g", {it: true, fs: 28, dy: 27, dx: -16});
	run(t2, " ≈ " + lgPlus[i] + ")", {dy: -12, dx: 3});

	// reference contours on top, extra dashed sets in (a) and (d)
	[refOuter, refMiddle, refInner, refSpur].forEach(function(c) { drawLine(g, c, orange); });
	if (letter == "a" || letter == "d") {
		[dashOuter, dashMiddle, dashInner].forEach(function(c) { drawLine(g, c, orange, "54 18"); });
		(letter == "a" ? dddA : dddD).forEach(function(c) { drawLine(g, c, "#000", "28 9 6 9 6 9"); });
	}

	// thick mark at the left edge
	g.append("line")
		.attr("x1", x(10))
		.attr("x2", x(15))
		.attr("y1", y(gapBar[i]))
		.attr("y2", y(gapBar[i]))
		.attr("stroke", "#000")
		.attr("stroke-width", 10);

	drawAxes(g);

	// tick labels
	xMajor.forEach(function(v, k) {
		var t = g.append("text")
			.attr("x", x(v))
			.attr("y", boxH + 79)
			.attr("text-anchor", "middle")
			.attr("font-size", 64);
		power(t, String(k + 1));
	});
	yMajor.forEach(function(v, k) {
		var drop = k == 0 ? 15 : (k == 1 ? 22 : 18);
		var t = g.append("text")
			.attr("x", -25)
			.attr("y", y(v) + drop)
			.attr("text-anchor", "end")
			.attr("font-size", 64);
		power(t, String(k + 1));
	});

	// panel letter
	var lab = g.append("text")
		.attr("x", -173)
		.attr("y", 15)
		.attr("text-anchor", "middle")
		.attr("font-size", 78);
	run(lab, "(");
	run(lab, letter, {it: true});
	run(lab, ")");

	// y title on the left column only
	if (col == 0) {
		var yt = g.append("text")
			.attr("x", -212)
			.attr("y", 269)
			.attr("font-size", 80);
		run(yt, "λ", {it: true});
		run(yt, "+", {fs: 60, dy: -28});
		run(yt, "y", {it: true, fs: 60, dy: 48, dx: -32});
	}
	// x title on the bottom row only
	if (row == 5) {
		var xt = g.append("text")
			.attr("x", 297)
			.attr("y", boxH + 172)
			.attr("font-size", 80);
		run(xt, "λ", {it: true});
		run(xt, "+", {fs: 60, dy: -28});
		run(xt, "x", {it: true, fs: 54, dy: 40, dx: -30});
	}
});
</script>
</body>
</html>
